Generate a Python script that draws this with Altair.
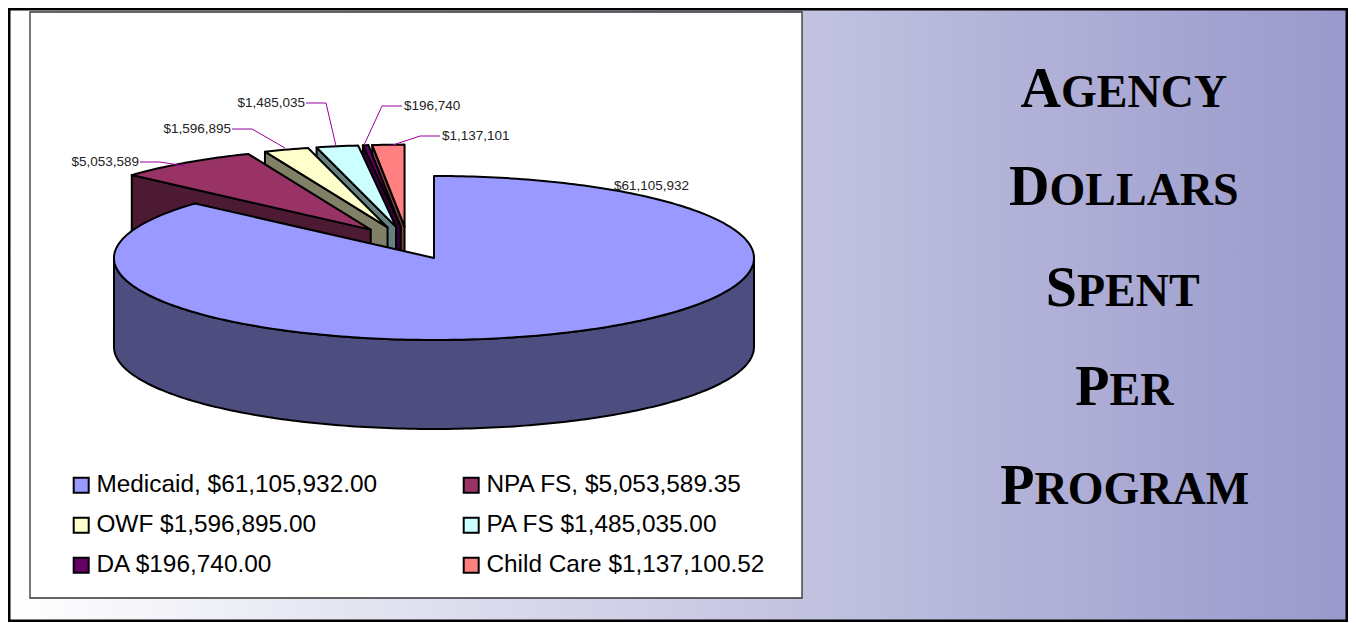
import math
import altair as alt

# --- chart values
categories = ["Medicaid", "NPA FS", "OWF", "PA FS", "DA", "Child Care"]
values = [61105932.00, 5053589.35, 1596895.00, 1485035.00, 196740.00, 1137100.52]
legend_labels = ["Medicaid, $61,105,932.00", "NPA FS, $5,053,589.35", "OWF $1,596,895.00",
                 "PA FS $1,485,035.00", "DA $196,740.00", "Child Care $1,137,100.52"]
top_colors = ["#9999FF", "#993366", "#FFFFCC", "#CCFFFF", "#660066", "#FF8080"]
wall_colors = ["#4D4D80", "#4D1A33", "#808066", "#668080", "#330033", "#804040"]
title_big = ["A", "D", "S", "P", "P"]
title_small = ["GENCY", "OLLARS", "PENT", "ER", "ROGRAM"]
title_split = [1061, 1049.5, 1077, 1109.5, 1034.5]
title_base = [107, 205, 306, 405, 504]
label_anchor = [(614, 186, "left"), (139, 162, "right"), (231, 129, "right"),
                (305, 103, "right"), (404, 106, "left"), (442, 136, "left")]
leaders = [
    [],
    [(140, 162), (160, 162), (185, 166)],
    [(232, 129), (252, 129), (285, 148)],
    [(306, 103), (326, 103), (336, 146)],
    [(402, 106), (382, 106), (364, 145)],
    [(440, 136), (420, 136), (390, 146)],
]

# --- 3-D pie geometry (page pixels)
CX, CY, RX, RY, DEPTH, EXPLODE = 407.8, 243.0, 320.0, 82.0, 89.0, 0.2
total = sum(values)
angles = []
a = 0.0
for v in values:
    angles.append((a, a + v / total * 360.0))
    a += v / total * 360.0


def rim(cx, cy, deg, dy=0.0):
    r = math.radians(deg)
    return [cx + RX * math.sin(r), cy - RY * math.cos(r) + dy]


def sweep(a0, a1):
    n = max(2, int(abs(a1 - a0)) + 2)
    return [a0 + (a1 - a0) * i / (n - 1) for i in range(n)]


def feature(name, ring):
    ring = ring + [ring[0]]
    return {"type": "Feature", "geometry": {"type": "Polygon", "coordinates": [ring]},
            "properties": {"face": name}}


features = []
for i in [5, 4, 3, 2, 1, 0]:
    a0, a1 = angles[i]
    mid = math.radians((a0 + a1) / 2)
    cx = CX + EXPLODE * RX * math.sin(mid)
    cy = CY - EXPLODE * RY * math.cos(mid)
    wall = "wall " + categories[i]
    if i == 0:
        arc = sweep(90, 270)
        features.append(feature(wall, [rim(cx, cy, d) for d in arc]
                                + [rim(cx, cy, d, DEPTH) for d in reversed(arc)]))
    else:
        s = rim(cx, cy, a0)
        features.append(feature(wall, [[cx, cy], s, [s[0], s[1] + DEPTH], [cx, cy + DEPTH]]))
    features.append(feature(legend_labels[i], [[cx, cy]] + [rim(cx, cy, d) for d in sweep(a0, a1)]))

X = lambda f: alt.X(f, type="quantitative", axis=None, scale=alt.Scale(domain=[8, 1348]))
Y = lambda f: alt.Y(f, type="quantitative", axis=None, scale=alt.Scale(domain=[8, 622], reverse=True))

gradient = alt.Gradient(gradient="linear", x1=0, x2=1, y1=0, y2=0,
                        stops=[alt.GradientStop(color="#FFFFFF", offset=0),
                               alt.GradientStop(color="#9999CC", offset=1)])

frame = alt.Chart(alt.Data(values=[{"x": 9.25, "x2": 1346.75, "y": 9.25, "y2": 620.75}])).mark_rect(
    fill=gradient, stroke="#000000", strokeWidth=2.5
).encode(x=X("x"), x2="x2", y=Y("y"), y2="y2")

box = alt.Chart(alt.Data(values=[{"x": 30, "x2": 802, "y": 12, "y2": 598}])).mark_rect(
    fill="#FFFFFF", stroke="#333333", strokeWidth=1.3
).encode(x=X("x"), x2="x2", y=Y("y"), y2="y2")

domain = legend_labels + ["wall " + c for c in categories]
pie = alt.Chart(alt.Data(values=features)).mark_geoshape(
    stroke="#000000", strokeWidth=2, strokeJoin="round"
).encode(
    color=alt.Color(
        "properties.face:N",
        scale=alt.Scale(domain=domain, range=top_colors + wall_colors),
        legend=alt.Legend(
            title=None, values=legend_labels, orient="none", legendX=61, legendY=465,
            columns=2, direction="horizontal", columnPadding=81, rowPadding=15,
            symbolType="square", symbolSize=225, symbolStrokeColor="#000000",
            symbolStrokeWidth=2, labelFont="Liberation Sans", labelFontSize=24.4,
            labelColor="#000000", labelLimit=400, symbolOffset=0, labelOffset=3,
        ),
    )
).project(type="identity", scale=1, translate=[-8, -8], reflectY=False)

leader_rows = [{"k": i, "o": j, "x": p[0], "y": p[1]}
               for i, pts in enumerate(leaders) for j, p in enumerate(pts)]
leader = alt.Chart(alt.Data(values=leader_rows)).mark_line(color="#990099", strokeWidth=1).encode(
    x=X("x"), y=Y("y"), detail="k:N", order="o:Q"
)

label_layers = []
for al in ["left", "right"]:
    rows = [{"t": f"${v:,.0f}", "x": a[0], "y": a[1]}
            for v, a in zip(values, label_anchor) if a[2] == al]
    label_layers.append(
        alt.Chart(alt.Data(values=rows)).mark_text(
            align=al, baseline="middle", font="Liberation Sans", fontSize=13.5, color="#222222"
        ).encode(x=X("x"), y=Y("y"), text="t:N")
    )

big_rows = [{"t": t, "x": x, "y": y} for t, x, y in zip(title_big, title_split, title_base)]
small_rows = [{"t": t, "x": x, "y": y} for t, x, y in zip(title_small, title_split, title_base)]
title_a = alt.Chart(alt.Data(values=big_rows)).mark_text(
    align="right", baseline="alphabetic", font="Liberation Serif", fontWeight="bold",
    fontSize=56, color="#000000"
).encode(x=X("x"), y=Y("y"), text="t:N")
title_b = alt.Chart(alt.Data(values=small_rows)).mark_text(
    align="left", baseline="alphabetic", font="Liberation Serif", fontWeight="bold",
    fontSize=46, color="#000000"
).encode(x=X("x"), y=Y("y"), text="t:N")

chart = alt.layer(
    frame, box, pie, leader, *label_layers, title_a, title_b
).properties(
    width=1340, height=614, padding=0, background="#FFFFFF",
    autosize=alt.AutoSizeParams(type="none"),
).configure_view(stroke=None)

chart.save("out.html", embed_options={"renderer": "svg", "actions": False})
